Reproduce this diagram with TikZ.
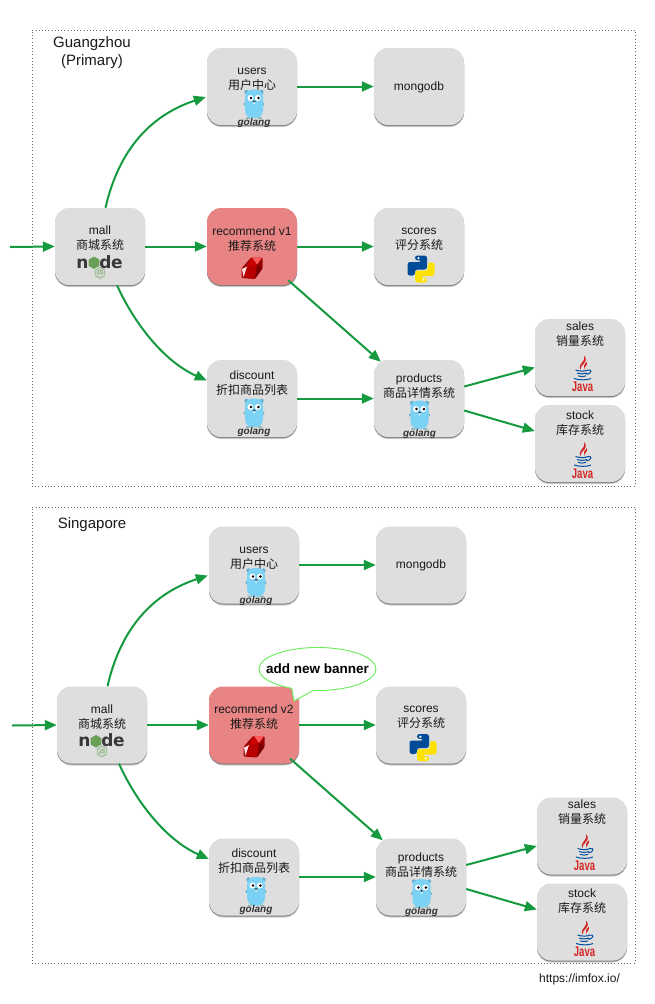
\documentclass[tikz,border=0pt]{standalone}
\usepackage{fontspec}
\setmainfont{Liberation Sans}
\newfontfamily\cjk{Noto Sans CJK SC}
\newfontfamily\heavy{DejaVu Sans Bold}
\usetikzlibrary{arrows.meta,shadows,shapes.callouts,shapes.geometric}
\definecolor{boxgray}{HTML}{DEDEDE}
\definecolor{boxred}{HTML}{E88484}
\definecolor{flowgreen}{HTML}{159A3F}
\definecolor{gopherblue}{HTML}{7BD2F4}
\definecolor{bubblegreen}{HTML}{66EE55}
\definecolor{nodegreen}{HTML}{6A9F58}
\tikzset{
  svcbox/.style={rectangle,rounded corners=14pt,minimum width=90pt,minimum height=77pt,inner sep=0pt,fill=boxgray,
    general shadow={shadow xshift=0pt,shadow yshift=-2pt,fill=black,opacity=.18},
    general shadow={shadow xshift=0pt,shadow yshift=-1pt,fill=black,opacity=.4}},
  svcred/.style={svcbox,fill=boxred},
  svclabel/.style={font=\fontsize{12}{15}\selectfont,align=center,inner sep=0pt,text=black!90},
  flow/.style={draw=flowgreen,line width=2pt,-{Triangle[length=12pt,width=10pt]}},
  frame/.style={draw=black!60,line width=.5pt,dash pattern=on .8pt off 2.4pt},
  title/.style={font=\fontsize{15}{18}\selectfont,align=center,inner sep=0pt,text=black!90},
  pics/gopher/.style={code={
    \fill[gopherblue!85!black] (-7.5,-12) circle (2.2) (7.5,-12) circle (2.2);
    \fill[gopherblue!85!black,rounded corners=.8pt] (-10.3,-1.5) rectangle (-8,1.5) (8,-1.5) rectangle (10.3,1.5);
    \fill[gopherblue,rounded corners=7.5pt] (-9,-14.5) rectangle (9,14);
    \fill[white] (-3.6,-6) circle (3) (3.8,-6) circle (3);
    \fill[black] (-3,-6) circle (1.4) (4.4,-6) circle (1.4);
    \fill[black!75] (0.2,-2.6) ellipse (1.5 and 1);
    \fill[white!70!gopherblue] (0.2,-.7) ellipse (1.2 and 1.2);
    \fill[brown!30!gopherblue] (-6,14) ellipse (2.4 and 1) (6,14) ellipse (2.4 and 1);
    \node (-word) at (0,18.6) [inner sep=0pt,text=black!80,font=\bfseries\itshape\fontsize{10}{10}\selectfont] {golang};
  }},
  pics/nodelogo/.style={code={
    \node (-n) at (-17.5,17) [inner sep=0pt,text=black!78,font=\heavy\fontsize{17}{17}\selectfont] {n};
    \fill[nodegreen] (-6,10) -- (-.6,13.2) -- (-.6,19.4) -- (-6,22.5) -- (-11.4,19.4) -- (-11.4,13.2) -- cycle;
    \node (-d) at (5.5,15.5) [inner sep=0pt,text=black!78,font=\heavy\fontsize{17}{17}\selectfont] {d};
    \node (-e) at (17,17) [inner sep=0pt,text=black!78,font=\heavy\fontsize{17}{17}\selectfont] {e};
    \draw[nodegreen!70,line width=.8pt,fill=nodegreen,fill opacity=.12] (0,21) -- (4.8,23.8) -- (4.8,29.2) -- (0,32) -- (-4.8,29.2) -- (-4.8,23.8) -- cycle;
    \node (-js) at (0,26.5) [inner sep=0pt,text=nodegreen,font=\fontsize{5.5}{6}\selectfont] {JS};
  }},
  pics/rubylogo/.style={code={
    \fill[red!60!black,rounded corners=1.2pt] (-1,-11) -- (10.5,-11) -- (10.5,0) -- (3,10.5) -- (-10.5,9.5) -- (-10.5,0) -- cycle;
    \fill[red!72!black] (-5,-2) -- (5,-4) -- (3,10.2) -- (-8,9) -- cycle;
    \fill[red!80!black] (-1,-10.5) -- (5,-4) -- (-5,-2) -- cycle;
    \fill[red!65!white] (0,-11) -- (10,-11) -- (5,-4) -- cycle;
    \fill[red!12!white] (-10,0.5) -- (-5,-2) -- (-8.5,8.5) -- cycle;
    \fill[red!48!black] (5,-4) -- (10.5,-.5) -- (3,10.2) -- cycle;
  }},
  pics/pythonlogo/.style={code={
    \fill[rounded corners=2.5pt,blue!50!cyan!60!black] (-6,-13.5) -- (6,-13.5) -- (6,0.5) -- (-6,0.5) -- (-6,6.5) -- (-13.5,6.5) -- (-13.5,-7) -- (0.5,-7) -- (0.5,-8.7) -- (-6,-8.7) -- cycle;
    \fill[rounded corners=2.5pt,yellow!85!orange] (6,13.5) -- (-6,13.5) -- (-6,1.6) -- (6.8,1.6) -- (6.8,-6.5) -- (13.5,-6.5) -- (13.5,7) -- (-0.5,7) -- (-0.5,8.7) -- (6,8.7) -- cycle;
    \fill[white] (-2.6,-10.8) circle (1.2) (2.6,10.8) circle (1.2);
  }},
  pics/javalogo/.style={code={
    \fill[red!80!black!85] (2,-17) .. controls (5,-11) and (-5,-9) .. (-1.5,-3) .. controls (-2.5,-8) and (8,-10) .. (2,-17) -- cycle;
    \fill[red!80!black!85] (5,-11) .. controls (2,-8) and (1,-6) .. (2.5,-3) .. controls (2,-6) and (6,-7) .. (5,-11) -- cycle;
    \draw[blue!45!black!70!cyan,line width=1pt]
      (-6.5,-2.5) .. controls (-2,-1) and (3,-1) .. (6,-2.5)
      (-5,.5) .. controls (-2,1.6) and (2,1.6) .. (5,.5)
      (-4,3.4) .. controls (-1.5,4.3) and (2,4.3) .. (4,3.4)
      (-8,6) .. controls (-3,7.8) and (5,7.8) .. (9,6)
      (6,-2.5) .. controls (10,-3.5) and (10,1) .. (4.5,2);
    \node (-word) at (.5,14.5) [inner sep=0pt,xscale=.68,text=red!80!black!85,font=\bfseries\fontsize{14}{14}\selectfont] {Java};
  }},
}
% \diagram{prefix}{recommend label}
\newcommand\diagram[2]{%
  \def\P{#1}%
  \coordinate (\P-in) at (10,247);
  \node[svcbox] (\P-mall) at (100,246.5) {};
  \node[svcbox] (\P-users) at (252,86.5) {};
  \node[svcred] (\P-rec) at (252,246.5) {};
  \node[svcbox] (\P-scores) at (419,246.5) {};
  \node[svcbox] (\P-mongo) at (419,86.5) {};
  \node[svcbox] (\P-discount) at (252,398.5) {};
  \node[svcbox] (\P-products) at (419,398.5) {};
  \node[svcbox] (\P-sales) at (580,357.5) {};
  \node[svcbox] (\P-stock) at (580,443.5) {};
  \node[svclabel] (\P-malltxt) at (100,238.5) {mall\\{\cjk 商城系统}};
  \node[svclabel] (\P-userstxt) at (252,79.5) {users\\{\cjk 用户中心}};
  \node[svclabel] (\P-rectxt) at (252,239) {#2\\{\cjk 推荐系统}};
  \node[svclabel] (\P-scorestxt) at (419,239) {scores\\{\cjk 评分系统}};
  \node[svclabel] (\P-mongotxt) at (419,87) {mongodb};
  \node[svclabel] (\P-discounttxt) at (252,383) {discount\\{\cjk 折扣商品列表}};
  \node[svclabel] (\P-productstxt) at (419,386.5) {products\\{\cjk 商品详情系统}};
  \node[svclabel] (\P-salestxt) at (580,334) {sales\\{\cjk 销量系统}};
  \node[svclabel] (\P-stocktxt) at (580,423) {stock\\{\cjk 库存系统}};
  \pic (\P-g1) at (254,104) {gopher};
  \pic (\P-g2) at (254,413) {gopher};
  \pic (\P-g3) at (419.5,415) {gopher};
  \pic (\P-nl) at (100,246.5) {nodelogo};
  \pic (\P-rb) at (252,268.5) {rubylogo};
  \pic (\P-py) at (421,269) {pythonlogo};
  \pic (\P-j1) at (582,372.5) {javalogo};
  \pic (\P-j2) at (582,459) {javalogo};
  \draw[flow] (\P-in) -- (\P-mall.west);
  \draw[flow] ([xshift=5.5pt]\P-mall.north) .. controls (121,140) and (160,112) .. ([xshift=-1pt,yshift=-10.5pt]\P-users.west);
  \draw[flow] (\P-mall.east) -- (\P-rec.west);
  \draw[flow] ([xshift=17pt]\P-mall.south) .. controls (135,325) and (165,362) .. ([yshift=18pt]\P-discount.west);
  \draw[flow] (\P-users.east) -- (\P-mongo.west);
  \draw[flow] (\P-rec.east) -- (\P-scores.west);
  \draw[flow] ([xshift=-9pt,yshift=5pt]\P-rec.south east) -- ([xshift=7pt,yshift=-2pt]\P-products.north west);
  \draw[flow] (\P-discount.east) -- (\P-products.west);
  \draw[flow] ([yshift=12pt]\P-products.east) -- ([yshift=-10pt]\P-sales.west);
  \draw[flow] ([yshift=-12pt]\P-products.east) -- ([yshift=12.5pt]\P-stock.west);
}
\begin{document}
\begin{tikzpicture}[x=1pt,y=-1pt]
\useasboundingbox (0,0) rectangle (654,1004);
\fill[white] (0,0) rectangle (654,1004);
\node[frame,rectangle,minimum width=603pt,minimum height=456pt,inner sep=0pt] (topframe) at (333.5,258) {};
\node[frame,rectangle,minimum width=603pt,minimum height=456pt,inner sep=0pt] (botframe) at (333.5,735) {};
\node[title] (gz) at (92,52.5) {Guangzhou\\(Primary)};
\node[title] (sg) at (92,525) {Singapore};
\diagram{a}{recommend v1}
\begin{scope}[shift={(2,478.5)}]
\diagram{b}{recommend v2}
\end{scope}
\node[ellipse callout,draw=bubblegreen,fill=white,line width=.9pt,minimum width=117pt,minimum height=43pt,inner sep=0pt,
  callout absolute pointer={(294,701)},callout pointer arc=22] (bubble) at (317.5,669) {};
\node[inner sep=0pt,font=\bfseries\fontsize{13.5}{15}\selectfont] (bubbletxt) at (317.5,669) {add new banner};
\node[inner sep=0pt,font=\fontsize{12}{14}\selectfont,text=black!90] (url) at (579.5,979) {https://imfox.io/};
\end{tikzpicture}
\end{document}
